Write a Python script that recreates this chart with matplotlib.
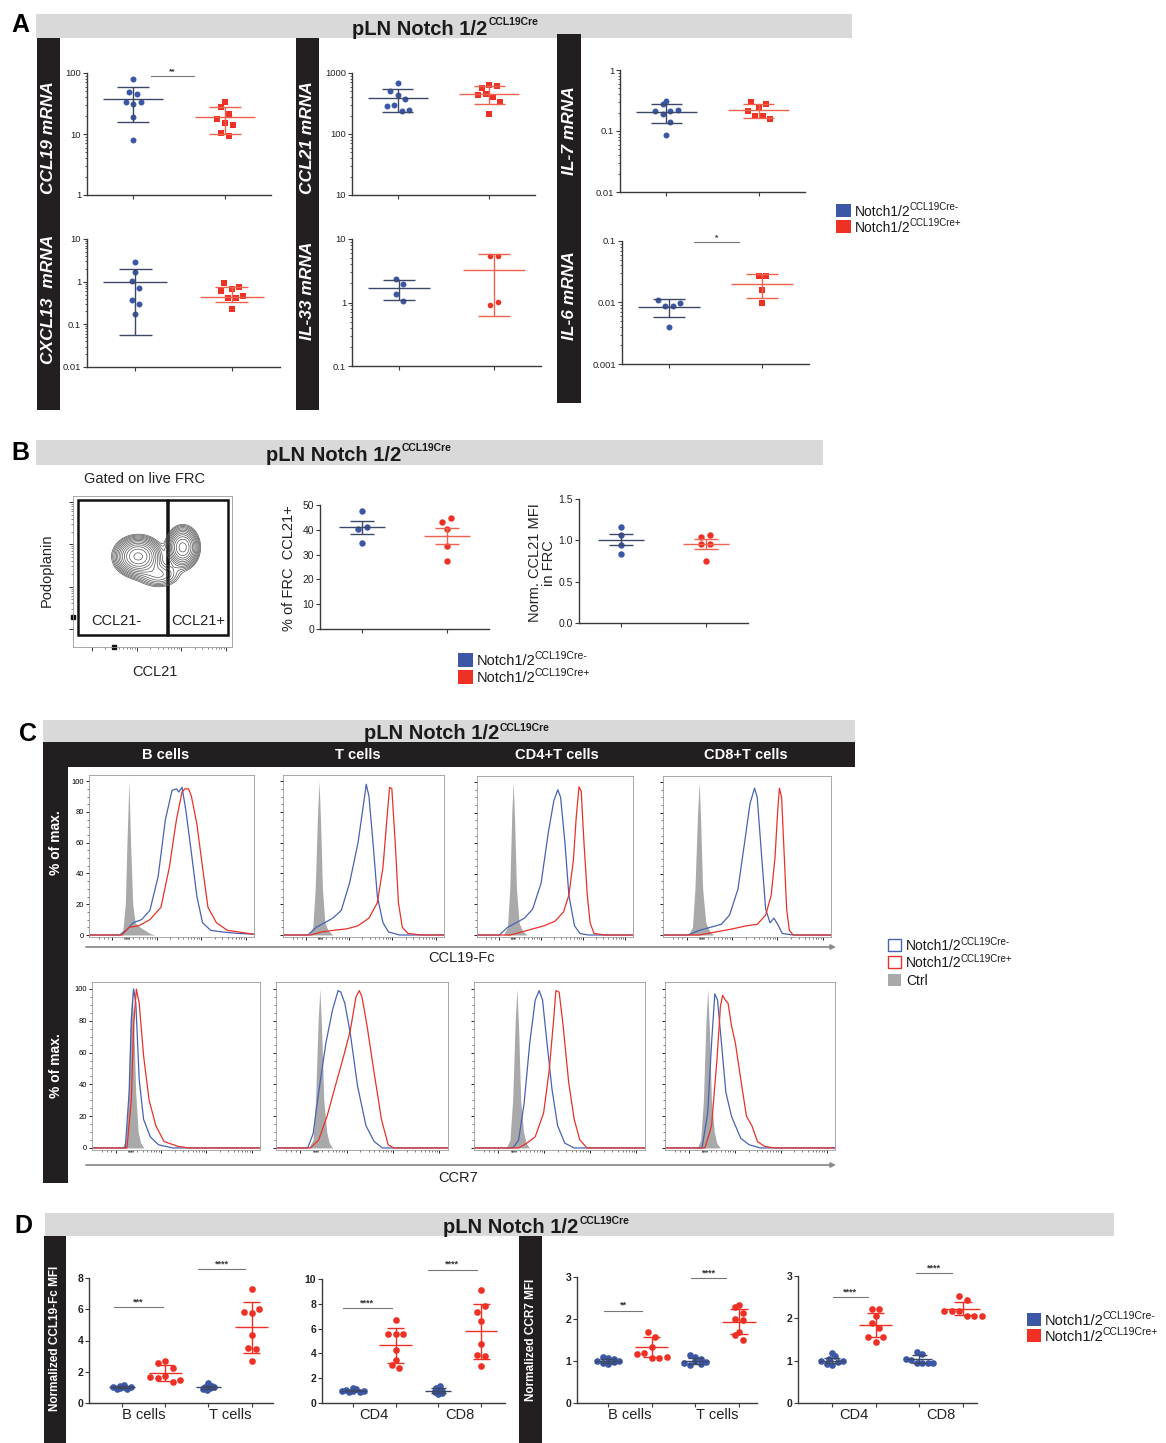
import numpy as np
import matplotlib
matplotlib.use('Agg')
import matplotlib.pyplot as plt
from matplotlib.patches import Rectangle
from matplotlib.ticker import NullFormatter

plt.rcParams['font.family'] = ['Liberation Sans', 'DejaVu Sans']
NARROW = ['Liberation Sans Narrow', 'DejaVu Sans Condensed', 'Liberation Sans', 'DejaVu Sans']

# ---------------- data ----------------
legend_main = 'Notch1/2'
legend_sup = ['CCL19Cre-', 'CCL19Cre+']
title_main = 'pLN Notch 1/2'
title_sup = 'CCL19Cre'

# panel A: relative mRNA, values per mouse; stats = (mean, low bar, high bar)
ccl19_neg = [79, 49, 46, 33, 31, 34, 19, 8.1]
ccl19_pos = [34, 28, 21, 17.7, 15.1, 14.2, 10.4, 9.3]
ccl19_neg_st = [37.4, 15.7, 58.6]
ccl19_pos_st = [18.9, 10.0, 27.4]

ccl21_neg = [695, 508, 431, 372, 289, 296, 236, 251]
ccl21_pos = [575, 628, 605, 431, 448, 405, 331, 211]
ccl21_neg_st = [390, 230, 541]
ccl21_pos_st = [459, 315, 605]

il7_neg = [0.311, 0.214, 0.188, 0.275, 0.214, 0.222, 0.139, 0.0865]
il7_pos = [0.303, 0.251, 0.275, 0.216, 0.179, 0.175, 0.158]
il7_neg_st = [0.206, 0.134, 0.275]
il7_pos_st = [0.222, 0.166, 0.275]

cxcl13_neg = [2.83, 1.68, 1.05, 0.72, 0.37, 0.297, 0.173]
cxcl13_pos = [0.94, 0.6, 0.69, 0.73, 0.42, 0.41, 0.45, 0.227]
cxcl13_neg_st = [1.0, 0.0566, 2.01]
cxcl13_pos_st = [0.44, 0.325, 0.77]

il33_neg = [2.33, 1.93, 1.36, 1.07]
il33_pos = [5.48, 5.48, 0.925, 1.02]
il33_neg_st = [1.67, 1.11, 2.25]
il33_pos_st = [3.27, 0.62, 5.89]

il6_neg = [0.011, 0.0089, 0.0089, 0.0099, 0.0040]
il6_pos = [0.0268, 0.0268, 0.0159, 0.0099]
il6_neg_st = [0.00857, 0.0059, 0.0112]
il6_pos_st = [0.0197, 0.0117, 0.0286]

# panel B
frc_neg = [47.6, 40.2, 41.3, 34.8]
frc_pos = [43.0, 44.9, 40.2, 33.5, 27.4]
frc_neg_st = [41.0, 38.3, 43.7]
frc_pos_st = [37.5, 34.4, 40.9]
ccl21mfi_neg = [1.16, 1.07, 0.94, 0.84]
ccl21mfi_pos = [1.045, 1.07, 0.961, 0.961, 0.744]
ccl21mfi_neg_st = [1.0, 0.94, 1.08]
ccl21mfi_pos_st = [0.957, 0.90, 1.013]

# flow plot populations (axis fractions): centres, spreads, weights
flow_cx = [0.41, 0.69, 0.54]
flow_cy = [0.60, 0.66, 0.48]
flow_sx = [0.066, 0.046, 0.07]
flow_sy = [0.058, 0.062, 0.045]
flow_w = [1.0, 0.8, 0.2]

# panel C: histograms, (channel %, % of max)
hfc_b_ctrl = [(18, 0), (20.5, 3), (22, 20), (23, 60), (24.2, 100), (25.2, 60), (26.5, 20), (28, 8), (31, 5), (34, 3), (37, 1), (40, 0)]
hfc_b_neg = [(0, 0), (18.5, 0), (23.5, 4), (26.8, 8), (31.9, 10), (36.9, 16), (41.9, 38), (46.3, 75), (50.3, 94), (53, 95), (54.4, 93), (56.4, 96), (58.7, 81), (62.1, 53), (65.4, 25), (68.8, 8), (73.8, 3), (80.5, 2), (90.6, 1), (100, 0.5)]
hfc_b_pos = [(0, 0), (20.1, 0), (24.2, 5), (30.2, 6), (36.9, 10), (43.6, 18), (48.7, 44), (53, 75), (56.4, 93), (58.1, 95), (60.4, 95), (62.1, 90), (65.4, 72), (68.8, 44), (72.1, 18), (77.2, 8), (83.9, 3), (90.6, 2), (100, 0.5)]
hfc_t_ctrl = [(16, 0), (18.5, 5), (20, 30), (21.5, 80), (22.4, 100), (23.3, 75), (24.5, 30), (26, 8), (28, 3), (31, 0)]
hfc_t_neg = [(0, 0), (15.5, 0), (20.7, 5), (25.9, 8), (31, 11), (36.2, 16), (41.4, 34), (46.6, 60), (50, 85), (51.7, 98), (53.4, 90), (55.9, 60), (58.6, 25), (62.1, 8), (65.5, 2), (72.4, 0), (100, 0)]
hfc_t_pos = [(0, 0), (17.2, 0), (24.1, 2), (31, 3), (39.7, 4), (46.6, 6), (53.4, 11), (58.6, 21), (62.1, 44), (64.5, 75), (66.2, 96), (67.6, 95), (69.7, 60), (71.7, 21), (74.1, 5), (77.6, 1), (86.2, 0), (100, 0)]
hfc_cd4_ctrl = [(17, 0), (19.5, 5), (21, 30), (22.3, 80), (23.2, 100), (24.1, 75), (25.3, 30), (27, 8), (29, 3), (32, 0)]
hfc_cd4_neg = [(0, 0), (14.3, 0), (19.6, 5), (25, 8), (30.4, 11), (35.7, 17), (41.1, 34), (45.7, 67), (49.3, 88), (51.8, 95), (53.6, 90), (56.4, 60), (58.9, 26), (62.5, 6), (66.1, 1), (71.4, 0), (100, 0)]
hfc_cd4_pos = [(0, 0), (21.4, 0), (28.6, 2), (35.7, 4), (42.9, 6), (50, 9), (55.4, 15), (58.9, 26), (61.8, 49), (63.6, 77), (65.4, 97), (66.8, 94), (68.6, 60), (70.7, 26), (72.5, 8), (75, 1), (82.1, 0), (100, 0)]
hfc_cd8_ctrl = [(15, 0), (17.5, 5), (19, 30), (20.6, 80), (21.5, 100), (22.4, 75), (23.6, 30), (25.5, 8), (27.5, 3), (30, 0)]
hfc_cd8_neg = [(0, 0), (14.9, 0), (21.5, 3), (28.1, 5), (34.7, 7), (39.6, 13), (44.6, 30), (48.5, 60), (51.8, 86), (54.5, 96), (56.1, 90), (58.4, 56), (61.1, 17), (63.7, 8), (66, 11), (68.3, 7), (71, 1), (77.6, 0), (100, 0)]
hfc_cd8_pos = [(0, 0), (21.5, 0), (31.4, 2), (41.3, 4), (49.5, 6), (56.1, 7), (61.1, 13), (64.4, 26), (66.7, 51), (68.3, 82), (69.3, 96), (70.6, 90), (72, 56), (73.6, 17), (75.2, 3), (77.6, 0), (100, 0)]

hccr7_b_ctrl = [(18, 0), (20, 5), (21.5, 30), (22.8, 80), (23.8, 100), (24.8, 80), (26, 35), (27.5, 10), (29, 3), (31, 0)]
hccr7_b_neg = [(0, 0), (19.8, 0), (22.1, 35), (23.4, 81), (24.8, 100), (26.1, 91), (28.1, 43), (30.7, 18), (34.7, 7), (39.6, 2), (47.9, 0), (100, 0)]
hccr7_b_pos = [(0, 0), (20.8, 0), (23.4, 30), (24.8, 77), (26.4, 100), (28.1, 91), (30.7, 58), (34, 30), (38, 14), (42.9, 4), (51.2, 1), (57.8, 0), (100, 0)]
hccr7_t_ctrl = [(19, 0), (21.5, 5), (23, 30), (24.5, 80), (25.5, 100), (26.5, 75), (27.8, 30), (29.5, 10), (31, 3), (33, 0)]
hccr7_t_neg = [(0, 0), (18.4, 0), (21.6, 9), (24.8, 35), (29, 66), (32.9, 87), (36.1, 99), (37.7, 98), (40, 91), (43.2, 72), (47.4, 39), (52.3, 14), (57.1, 4), (61.9, 0), (100, 0)]
hccr7_t_pos = [(0, 0), (20, 0), (24.8, 5), (29.7, 20), (34.5, 39), (39.4, 58), (43.2, 74), (46.5, 95), (48.4, 99), (50, 95), (52.9, 77), (57.1, 47), (61.3, 18), (65.2, 2), (68.4, 0), (100, 0)]
hccr7_cd4_ctrl = [(19, 0), (21, 5), (22.6, 30), (24.1, 80), (25.1, 100), (26.1, 75), (27.3, 30), (29, 10), (30.5, 3), (32.5, 0)]
hccr7_cd4_neg = [(0, 0), (22.8, 0), (26.1, 5), (29.3, 28), (32.6, 66), (35.8, 93), (38.1, 99), (40.1, 93), (42.3, 70), (45.6, 37), (48.9, 14), (53.1, 3), (58.6, 0), (100, 0)]
hccr7_cd4_pos = [(0, 0), (26.1, 0), (30.9, 3), (35.8, 7), (40.7, 22), (44, 49), (46.6, 81), (47.9, 99), (49.8, 98), (52.1, 77), (55.4, 41), (58.6, 18), (61.9, 5), (66.1, 0), (100, 0)]
hccr7_cd8_ctrl = [(19, 0), (21, 5), (22.6, 30), (24.1, 80), (25.1, 100), (26.1, 75), (27.3, 30), (29, 10), (30.5, 3), (32.5, 0)]
hccr7_cd8_neg = [(0, 0), (21.8, 0), (25.1, 22), (27.4, 66), (29.3, 97), (30.9, 93), (33.2, 66), (35.8, 35), (39.1, 20), (41.4, 14), (44.6, 6), (49.5, 2), (56, 0), (100, 0)]
hccr7_cd8_pos = [(0, 0), (23.5, 0), (27.4, 14), (30.6, 56), (32.6, 89), (33.9, 96), (35.5, 93), (37.1, 91), (39.1, 77), (41.4, 66), (44.6, 43), (47.9, 20), (51.1, 14), (54.4, 4), (58.6, 1), (64.2, 0), (100, 0)]

hist_cells = ['B cells', 'T cells', 'CD4+T cells', 'CD8+T cells']

# panel D: normalized MFI
d_cats_1 = ['B cells', 'T cells']
d_cats_2 = ['CD4', 'CD8']
fc_b_neg = [1.0, 1.1, 0.92, 1.15, 0.95, 1.05, 0.9, 1.0]
fc_b_pos = [2.58, 2.68, 2.27, 1.67, 1.63, 1.72, 1.35, 1.5]
fc_t_neg = [1.3, 0.9, 1.05, 0.85, 1.15, 0.95, 1.0, 1.1]
fc_t_pos = [7.32, 5.82, 5.75, 6.03, 4.36, 3.54, 3.48, 2.7]
fc_b_neg_st = [1.0, 0.93, 1.07]
fc_b_pos_st = [1.93, 1.39, 2.42]
fc_t_neg_st = [1.0, 0.9, 1.1]
fc_t_pos_st = [4.85, 3.18, 6.46]
fc_cd4_neg = [1.2, 0.95, 1.05, 0.9, 1.0, 1.1, 0.92, 0.98]
fc_cd4_pos = [6.7, 5.6, 5.6, 5.6, 4.3, 3.5, 3.1, 2.8]
fc_cd8_neg = [0.85, 1.2, 0.7, 1.35, 0.95, 1.05, 0.8, 1.0]
fc_cd8_pos = [9.09, 7.31, 7.8, 6.59, 4.76, 3.9, 3.76, 2.96]
fc_cd4_neg_st = [1.0, 0.93, 1.07]
fc_cd4_pos_st = [4.65, 3.23, 6.08]
fc_cd8_neg_st = [1.0, 0.8, 1.2]
fc_cd8_pos_st = [5.78, 3.55, 8.0]

ccr7_b_neg = [1.0, 1.1, 0.95, 1.08, 0.92, 1.05, 0.97, 1.0]
ccr7_b_pos = [1.69, 1.57, 1.33, 1.16, 1.19, 1.08, 1.08, 1.1]
ccr7_t_neg = [0.95, 1.15, 0.9, 1.1, 1.0, 0.92, 1.05, 0.98]
ccr7_t_pos = [2.29, 2.34, 2.01, 2.14, 1.97, 1.69, 1.61, 1.51]
ccr7_b_neg_st = [1.0, 0.95, 1.05]
ccr7_b_pos_st = [1.33, 1.1, 1.57]
ccr7_t_neg_st = [1.0, 0.92, 1.08]
ccr7_t_pos_st = [1.94, 1.65, 2.23]
ccr7_cd4_neg = [1.0, 1.17, 0.93, 1.05, 0.9, 1.1, 0.97, 1.0]
ccr7_cd4_pos = [2.22, 2.22, 2.05, 1.9, 1.77, 1.55, 1.45, 1.55]
ccr7_cd8_neg = [1.21, 1.16, 1.03, 1.02, 0.95, 0.95, 0.95, 0.95]
ccr7_cd8_pos = [2.52, 2.44, 2.18, 2.17, 2.18, 2.06, 2.06, 2.06]
ccr7_cd4_neg_st = [1.0, 0.94, 1.06]
ccr7_cd4_pos_st = [1.85, 1.56, 2.13]
ccr7_cd8_neg_st = [1.03, 0.94, 1.13]
ccr7_cd8_pos_st = [2.23, 2.07, 2.38]

# ---------------- style ----------------
BLUE = '#3b57a6'
RED = '#ee3124'
BLUE_LN = '#3d4866'
RED_LN = '#f0624f'
HBLUE = '#4862b3'
HRED = '#e8312a'
CTRL = '#a9a9a9'
BARGRAY = '#d9d9d9'
BLACK = '#231f20'

W, H = 1166, 1443
fig = plt.figure(figsize=(W / 100, H / 100), dpi=100)
bg = fig.add_axes([0, 0, 1, 1])
bg.set_xlim(0, W)
bg.set_ylim(H, 0)
bg.axis('off')
renderer = fig.canvas.get_renderer()


def add_ax(x0, y0, x1, y1):
    ax = fig.add_axes([x0 / W, 1 - y1 / H, (x1 - x0) / W, (y1 - y0) / H])
    ax.patch.set_alpha(0)
    return ax


def rect(x0, y0, x1, y1, fc='none', ec='none', lw=1.0):
    bg.add_patch(Rectangle((x0, y0), x1 - x0, y1 - y0, facecolor=fc, edgecolor=ec, lw=lw))


def sup_text(x, y, main, sup, fs, sfs, rise, weight='normal', color='#1a1a1a', gap=1.5):
    t = bg.text(x, y, main, fontsize=fs, fontweight=weight, color=color, ha='left', va='baseline')
    bb = t.get_window_extent(renderer)
    bg.text(bb.x1 + gap, y - rise, sup, fontsize=sfs, fontweight=weight, color=color,
            ha='left', va='baseline')


def vlabel(x, y, s, fs, style='normal', weight='bold', family=None):
    bg.text(x, y, s, fontsize=fs, color='white', fontweight=weight, fontstyle=style,
            rotation=90, ha='center', va='center', family=family)


def swarm(ax, xc, vals, sep, row):
    # rows of points closer than `row` px get spread sideways, centred on xc
    pts = ax.transData.transform(np.column_stack([np.full(len(vals), xc), vals]))
    ypx = pts[:, 1]
    order = np.argsort(ypx)
    rows = []
    for i in order:
        if rows and ypx[i] - ypx[rows[-1][0]] < row:
            rows[-1].append(i)
        else:
            rows.append([i])
    offs = np.zeros(len(vals))
    for r in rows:
        r = sorted(r)
        for k, i in enumerate(r):
            offs[i] = (k - (len(r) - 1) / 2) * sep
    xy = ax.transData.inverted().transform(np.column_stack([pts[:, 0] + offs, ypx]))
    return xy[:, 0]


def group(ax, xc, vals, st, color, lcolor, marker, ms, sep, row, mw, cw, lw=1.0):
    xs = swarm(ax, xc, vals, sep, row)
    ax.plot(xs, vals, ls='none', marker=marker, ms=ms, mfc=color, mec=color, mew=0,
            zorder=2, clip_on=False)
    m, lo, hi = st
    kw = dict(color=lcolor, lw=lw, zorder=3, solid_capstyle='butt', clip_on=False)
    ax.plot([xc - mw, xc + mw], [m, m], **kw)
    ax.plot([xc, xc], [lo, hi], **kw)
    ax.plot([xc - cw, xc + cw], [lo, lo], **kw)
    ax.plot([xc - cw, xc + cw], [hi, hi], **kw)


def sig(ax, x0, x1, y, txt, fs=6):
    ax.plot([x0, x1], [y, y], color='#777777', lw=0.8, clip_on=False)
    ax.annotate(txt, ((x0 + x1) / 2, y), xytext=(0, 0.5), textcoords='offset points',
                ha='center', va='bottom', fontsize=fs, fontweight='bold', color='#333333',
                annotation_clip=False)


def style(ax, fs, weight='normal'):
    for s in ['top', 'right']:
        ax.spines[s].set_visible(False)
    for s in ['left', 'bottom']:
        ax.spines[s].set_color('#3a3a3a')
        ax.spines[s].set_linewidth(1.0)
    ax.tick_params(which='major', length=3, width=0.8, color='#3a3a3a', labelsize=fs,
                   pad=1.2, labelcolor='#222222')
    ax.tick_params(which='minor', length=1.6, width=0.6, color='#3a3a3a')
    for lab in ax.get_yticklabels():
        lab.set_fontweight(weight)


# ---------------- panel A ----------------
bg.text(11, 32, 'A', fontsize=18, fontweight='bold', va='baseline')
rect(36, 14, 852, 38, BARGRAY)
sup_text(352, 35, title_main, title_sup, 14.5, 7.5, 10, weight='bold')
rect(37, 38, 60, 410, BLACK)
rect(296, 38, 319, 410, BLACK)
rect(557, 34, 581, 403, BLACK)
vlabel(48.5, 138, 'CCL19 mRNA', 12.5, 'italic')
vlabel(48.5, 299, 'CXCL13  mRNA', 12.5, 'italic')
vlabel(307.5, 138, 'CCL21 mRNA', 12.5, 'italic')
vlabel(307.5, 291, 'IL-33 mRNA', 12.5, 'italic')
vlabel(569, 131, 'IL-7 mRNA', 12.5, 'italic')
vlabel(569, 296, 'IL-6 mRNA', 12.5, 'italic')


def mrna(box, neg, neg_st, pos, pos_st, ylim, pos_marker='s', star=None):
    ax = add_ax(*box)
    ax.set_yscale('log')
    ax.set_ylim(ylim)
    ax.set_xlim(-0.5, 1.5)
    e0, e1 = int(round(np.log10(ylim[0]))), int(round(np.log10(ylim[1])))
    decs = [10.0 ** e for e in range(e0, e1 + 1)]
    ax.set_yticks(decs, ['%g' % d for d in decs])
    ax.yaxis.set_minor_formatter(NullFormatter())
    ax.set_xticks([0, 1], ['', ''])
    style(ax, 6.8)
    group(ax, 0, neg, neg_st, BLUE, BLUE_LN, 'o', 4.3, 7.5, 8.5, 0.33, 0.17)
    group(ax, 1, pos, pos_st, RED, RED_LN, pos_marker, 4.0, 7.5, 8.5, 0.33, 0.17)
    if star:
        sig(ax, *star)
    return ax


mrna((87, 73, 271, 195), ccl19_neg, ccl19_neg_st, ccl19_pos, ccl19_pos_st, (1, 100),
     star=(0.2, 0.66, 88, '**'))
mrna((352, 73, 535, 195), ccl21_neg, ccl21_neg_st, ccl21_pos, ccl21_pos_st, (10, 1000))
mrna((620, 70, 805, 192), il7_neg, il7_neg_st, il7_pos, il7_pos_st, (0.01, 1))
mrna((87, 239, 280, 367), cxcl13_neg, cxcl13_neg_st, cxcl13_pos, cxcl13_pos_st, (0.01, 10))
mrna((352, 239, 541, 366), il33_neg, il33_neg_st, il33_pos, il33_pos_st, (0.1, 10),
     pos_marker='o')
mrna((622, 241, 809, 364), il6_neg, il6_neg_st, il6_pos, il6_pos_st, (0.001, 0.1),
     star=(0.27, 0.75, 0.095, '*'))

rect(836, 204, 851, 217, BLUE)
rect(836, 220, 851, 233, RED)
sup_text(855, 216, legend_main, legend_sup[0], 10, 7, 6, gap=-1)
sup_text(855, 232, legend_main, legend_sup[1], 10, 7, 6, gap=-1)

# ---------------- panel B ----------------
bg.text(11, 460, 'B', fontsize=18, fontweight='bold', va='baseline')
rect(36, 440, 823, 465, BARGRAY)
sup_text(266, 461, title_main, title_sup, 14.5, 7.5, 10, weight='bold', gap=0)
bg.text(144, 479, 'Gated on live FRC', fontsize=10.5, ha='center', va='center', color='#222')
bg.text(47, 570, 'Podoplanin', fontsize=10.5, rotation=90, ha='center', va='center', color='#222')
bg.text(155, 672, 'CCL21', fontsize=10.5, ha='center', va='center', color='#222')

fax = add_ax(73, 496, 232, 647)
fax.set_xlim(0, 1)
fax.set_ylim(0, 1)
gx, gy = np.meshgrid(np.linspace(0, 1, 320), np.linspace(0, 1, 320))
dens = np.zeros_like(gx)
for cx, cy, sx, sy, w in zip(flow_cx, flow_cy, flow_sx, flow_sy, flow_w):
    dens += w * np.exp(-((gx - cx) ** 2 / (2 * sx ** 2) + (gy - cy) ** 2 / (2 * sy ** 2)))
fax.contour(gx, gy, dens, levels=dens.max() * np.geomspace(0.04, 0.92, 13),
            colors='#555555', linewidths=0.5)
fax.add_patch(Rectangle((0.031, 0.079), 0.56, 0.895, fill=False, ec='#111', lw=1.8))
fax.add_patch(Rectangle((0.597, 0.079), 0.378, 0.895, fill=False, ec='#111', lw=1.8))
for s in fax.spines.values():
    s.set_color('#9a9a9a')
    s.set_linewidth(0.6)
fl_major = [0.12, 0.40, 0.68, 0.96]
fl_minor = [m + 0.28 * np.log10(k) for m in fl_major[:-1] for k in range(2, 10)]
fax.set_xticks(fl_major, [''] * 4)
fax.set_xticks(fl_minor, minor=True)
fax.set_yticks(fl_major, [''] * 4)
fax.set_yticks(fl_minor, minor=True)
fax.tick_params(which='major', length=3, width=0.7, color='#333')
fax.tick_params(which='minor', length=1.5, width=0.5, color='#555')
fax.plot([0.255], [0], marker='s', ms=3.5, color='#111', clip_on=False)
fax.plot([0], [0.2], marker='s', ms=3.5, color='#111', clip_on=False)
fax.text(0.275, 0.17, 'CCL21-', transform=fax.transAxes, fontsize=10.5, ha='center', va='center', color='#222')
fax.text(0.79, 0.17, 'CCL21+', transform=fax.transAxes, fontsize=10.5, ha='center', va='center', color='#222')

bax = add_ax(320, 505, 489, 629)
bax.set_xlim(-0.5, 1.5)
bax.set_ylim(0, 50)
bax.set_yticks(range(0, 51, 10))
bax.set_xticks([0, 1], ['', ''])
style(bax, 7.5)
group(bax, 0, frc_neg, frc_neg_st, BLUE, BLUE_LN, 'o', 4.6, 9, 5, 0.27, 0.14)
group(bax, 1, frc_pos, frc_pos_st, RED, RED_LN, 'o', 4.6, 9, 5, 0.27, 0.14)
bg.text(289, 568, '% of FRC  CCL21+', fontsize=10.5, rotation=90, ha='center', va='center', color='#222')

max_ = add_ax(579, 499, 748, 623)
max_.set_xlim(-0.5, 1.5)
max_.set_ylim(0, 1.5)
max_.set_yticks([0, 0.5, 1.0, 1.5], ['0.0', '0.5', '1.0', '1.5'])
max_.set_xticks([0, 1], ['', ''])
style(max_, 7.5)
group(max_, 0, ccl21mfi_neg, ccl21mfi_neg_st, BLUE, BLUE_LN, 'o', 4.6, 9, 5, 0.27, 0.14)
group(max_, 1, ccl21mfi_pos, ccl21mfi_pos_st, RED, RED_LN, 'o', 4.6, 9, 5, 0.27, 0.14)
bg.text(542, 563, 'Norm. CCL21 MFI\nin FRC', fontsize=10.5, rotation=90, ha='center', va='center',
        multialignment='center', linespacing=1.0, color='#222')

rect(458, 653, 473, 667, BLUE)
rect(458, 670, 473, 684, RED)
sup_text(477, 665, legend_main, legend_sup[0], 10.5, 7.5, 6, gap=-1)
sup_text(477, 682, legend_main, legend_sup[1], 10.5, 7.5, 6, gap=-1)

# ---------------- panel C ----------------
bg.text(19, 741, 'C', fontsize=18, fontweight='bold', va='baseline')
rect(43, 720, 855, 742, BARGRAY)
sup_text(364, 739, title_main, title_sup, 14.5, 7.5, 8, weight='bold', gap=0)
rect(43, 742, 855, 767, BLACK)
for xc, name in zip([166, 358, 557, 746], hist_cells):
    bg.text(xc, 755, name, fontsize=10.5, color='white', fontweight='bold', ha='center',
            va='center', family=NARROW)
rect(43, 767, 68, 1183, BLACK)
vlabel(56, 843, '% of max.', 10)
vlabel(56, 1066, '% of max.', 10)

h_major = [14, 41, 68, 95]
h_minor = [m + 27 * np.log10(k) for m in h_major[:-1] for k in range(2, 10)]
h_minor += [6, 9, 11.5] + [21.5 + 0.5 * i for i in range(7)]


def hist(box, ctrl, neg, pos, ylabels, ylim):
    ax = add_ax(*box)
    ax.set_xlim(0, 100)
    ax.set_ylim(ylim)
    cx, cy = zip(*ctrl)
    ax.fill_between(cx, cy, 0, color=CTRL, lw=0, zorder=1)
    for data, col in ((neg, HBLUE), (pos, HRED)):
        x, y = zip(*data)
        ax.plot(x, y, color=col, lw=0.9, zorder=2)
    for s in ax.spines.values():
        s.set_color('#9a9a9a')
        s.set_linewidth(0.6)
    ax.set_yticks(range(0, 101, 20), [str(v) for v in range(0, 101, 20)] if ylabels else [''] * 6)
    ax.set_yticks(range(0, 101, 5), minor=True)
    ax.set_xticks(h_major, [''] * 4)
    ax.set_xticks(h_minor, minor=True)
    ax.tick_params(which='major', length=2.5, width=0.7, color='#222', labelsize=5.5, pad=1)
    ax.tick_params(which='minor', length=1.3, width=0.5, color='#444')
    for lab in ax.get_yticklabels():
        lab.set_family(NARROW)
    return ax


top_boxes = [(89, 775, 254, 937), (283, 775, 444, 937), (477, 776, 633, 937), (663, 776, 831, 937)]
bot_boxes = [(92, 982, 260, 1150), (276, 982, 448, 1150), (474, 982, 645, 1150), (665, 982, 835, 1150)]
top_sets = [(hfc_b_ctrl, hfc_b_neg, hfc_b_pos), (hfc_t_ctrl, hfc_t_neg, hfc_t_pos),
            (hfc_cd4_ctrl, hfc_cd4_neg, hfc_cd4_pos), (hfc_cd8_ctrl, hfc_cd8_neg, hfc_cd8_pos)]
bot_sets = [(hccr7_b_ctrl, hccr7_b_neg, hccr7_b_pos), (hccr7_t_ctrl, hccr7_t_neg, hccr7_t_pos),
            (hccr7_cd4_ctrl, hccr7_cd4_neg, hccr7_cd4_pos), (hccr7_cd8_ctrl, hccr7_cd8_neg, hccr7_cd8_pos)]
for i, (b, s) in enumerate(zip(top_boxes, top_sets)):
    hist(b, *s, ylabels=(i == 0), ylim=(-1.3, 104))
for i, (b, s) in enumerate(zip(bot_boxes, bot_sets)):
    hist(b, *s, ylabels=(i == 0), ylim=(-1.3, 104.4))

for y in (947, 1165):
    bg.annotate('', xy=(836, y), xytext=(86, y),
                arrowprops=dict(arrowstyle='-|>', color='#8c8c8c', lw=1.3,
                                mutation_scale=7, shrinkA=0, shrinkB=0))
bg.text(462, 958, 'CCL19-Fc', fontsize=10.5, ha='center', va='center', family=NARROW, color='#222')
bg.text(458, 1178, 'CCR7', fontsize=10.5, ha='center', va='center', family=NARROW, color='#222')

rect(888, 939, 901, 951, 'white', HBLUE, 1.0)
rect(888, 956, 901, 968, 'white', HRED, 1.0)
rect(888, 974, 901, 986, CTRL)
sup_text(906, 950, legend_main, legend_sup[0], 10, 7, 5, gap=-1)
sup_text(906, 967, legend_main, legend_sup[1], 10, 7, 5, gap=-1)
bg.text(906, 985, 'Ctrl', fontsize=10, va='baseline', color='#1a1a1a')

# ---------------- panel D ----------------
bg.text(14, 1233, 'D', fontsize=18, fontweight='bold', va='baseline')
rect(45, 1213, 1114, 1236, BARGRAY)
sup_text(443, 1233, title_main, title_sup, 14.5, 7.5, 9, weight='bold')
rect(44, 1236, 66, 1443, BLACK)
rect(519, 1236, 542, 1443, BLACK)
vlabel(55, 1338, 'Normalized CCL19-Fc MFI', 8.5)
vlabel(530.5, 1340, 'Normalized CCR7 MFI', 8.5)


def mfi(box, xlim, ylim, yticks, cats, sets, stars, blue_sep, blue_row):
    ax = add_ax(*box)
    ax.set_xlim(xlim)
    ax.set_ylim(ylim)
    ax.set_yticks(yticks)
    ax.set_xticks([0.5, 2.5], cats)
    ax.set_xticks([0, 1, 2, 3], minor=True)
    style(ax, 7.5, weight='bold')
    ax.tick_params(axis='x', which='major', length=0, labelsize=10.5, pad=3.5)
    ax.tick_params(axis='x', which='minor', length=3, width=0.8)
    for k, (vals, st) in enumerate(sets):
        if k % 2 == 0:
            group(ax, k, vals, st, BLUE, BLUE_LN, 'o', 4.8, blue_sep, blue_row, 0.3, 0.18)
        else:
            group(ax, k, vals, st, RED, RED, 'o', 4.8, 7.5, 6.5, 0.38, 0.2)
    for st in stars:
        sig(ax, *st, fs=6.5)
    return ax


mfi((89, 1278, 273, 1403), (-0.76, 3.49), (0, 8), [0, 2, 4, 6, 8], d_cats_1,
    [(fc_b_neg, fc_b_neg_st), (fc_b_pos, fc_b_pos_st), (fc_t_neg, fc_t_neg_st), (fc_t_pos, fc_t_pos_st)],
    [(-0.18, 0.95, 6.14, '***'), (1.76, 2.84, 8.58, '****')], 3.6, 2.5)
mfi((322, 1279, 505, 1403), (-0.72, 3.56), (0, 10), [0, 2, 4, 6, 8, 10], d_cats_2,
    [(fc_cd4_neg, fc_cd4_neg_st), (fc_cd4_pos, fc_cd4_pos_st), (fc_cd8_neg, fc_cd8_neg_st), (fc_cd8_pos, fc_cd8_pos_st)],
    [(-0.23, 0.91, 7.66, '****'), (1.76, 2.9, 10.75, '****')], 3.6, 2.5)
mfi((577, 1277, 757, 1403), (-0.71, 3.41), (0, 3), [0, 1, 2, 3], d_cats_1,
    [(ccr7_b_neg, ccr7_b_neg_st), (ccr7_b_pos, ccr7_b_pos_st), (ccr7_t_neg, ccr7_t_neg_st), (ccr7_t_pos, ccr7_t_pos_st)],
    [(-0.09, 0.78, 2.2, '**'), (1.9, 2.7, 2.98, '****')], 5.5, 4.5)
mfi((798, 1276, 977, 1403), (-0.78, 3.32), (0, 3), [0, 1, 2, 3], d_cats_2,
    [(ccr7_cd4_neg, ccr7_cd4_neg_st), (ccr7_cd4_pos, ccr7_cd4_pos_st), (ccr7_cd8_neg, ccr7_cd8_neg_st), (ccr7_cd8_pos, ccr7_cd8_pos_st)],
    [(0.02, 0.82, 2.51, '****'), (1.92, 2.75, 3.07, '****')], 5.5, 4.5)

rect(1027, 1313, 1041, 1326, BLUE)
rect(1027, 1329, 1041, 1342, RED)
sup_text(1045, 1325, legend_main, legend_sup[0], 10.5, 7.5, 6, gap=-1)
sup_text(1045, 1341, legend_main, legend_sup[1], 10.5, 7.5, 6, gap=-1)

fig.savefig('out.png', dpi=100)
